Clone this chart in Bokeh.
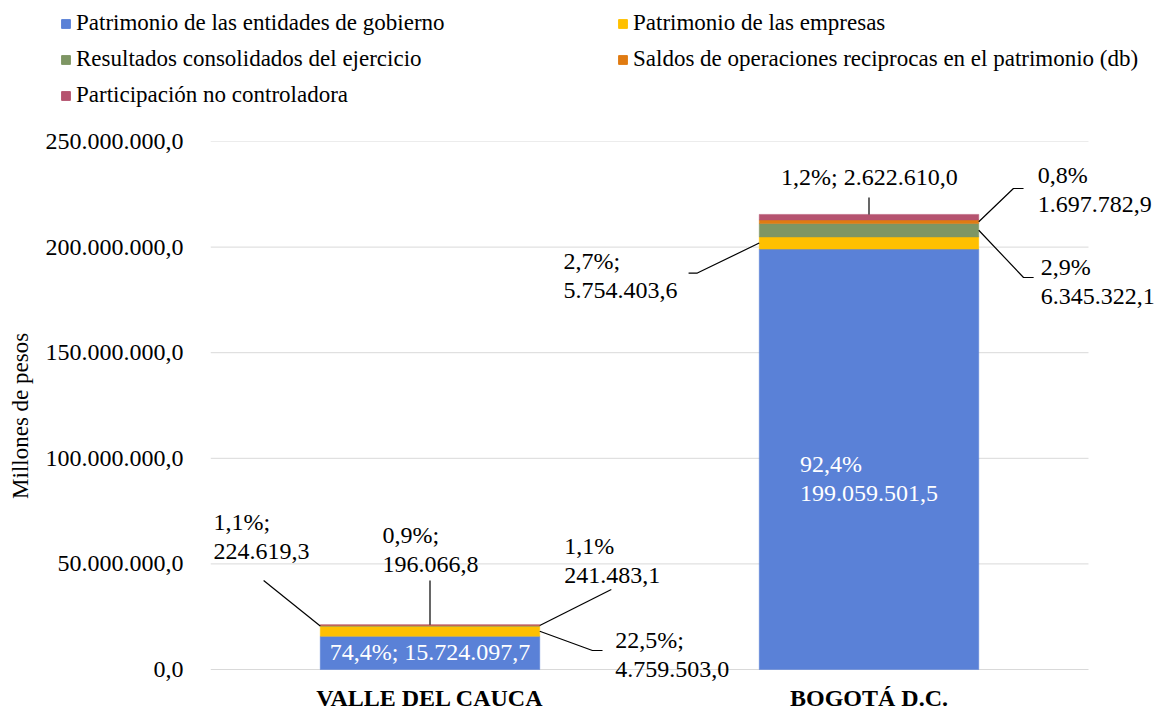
from bokeh.plotting import figure
from bokeh.layouts import column
from bokeh.models import (ColumnDataSource, Range1d, FixedTicker, Legend, LegendItem, LabelSet)
from bokeh.core.properties import value, field
from bokeh.embed import file_html
from bokeh.resources import INLINE

# ---------------- data ----------------
categories = ["VALLE DEL CAUCA", "BOGOTÁ D.C."]
series_names = [
    "Patrimonio de las entidades de gobierno",
    "Patrimonio de las empresas",
    "Resultados consolidados del ejercicio",
    "Saldos de operaciones reciprocas en el patrimonio (db)",
    "Participación no controladora",
]
entidades = [15724097.7, 199059501.5]
empresas = [4759503.0, 5754403.6]
resultados = [224619.3, 6345322.1]
saldos = [241483.1, 1697782.9]
participacion = [196066.8, 2622610.0]
y_ticks = [0, 50e6, 100e6, 150e6, 200e6, 250e6]

# ---------------- styles ----------------
colors = ["#5A81D7", "#FFC000", "#7E9664", "#E07B12", "#B5536F"]
FONT = "Liberation Serif"
keys = ["ent", "emp", "res", "sal", "par"]
vals = [entidades, empresas, resultados, saldos, participacion]


def es(v, dec=1):
    s = f"{v:,.{dec}f}"
    return s.replace(",", "X").replace(".", ",").replace("X", ".")


x_pos = [0.5, 1.5]
bar_w = 0.5
totals = [sum(v[i] for v in vals) for i in range(2)]
bottoms = []
for s in range(5):
    bottoms.append([sum(vals[k][c] for k in range(s)) for c in range(2)])

src = ColumnDataSource(dict(x=x_pos, **{k: v for k, v in zip(keys, vals)}))

# ---------------- legend strip (separate figure on top) ----------------
LEG_H = 112
lf = figure(width=1157, height=LEG_H, min_border=0, x_range=Range1d(0, 1), y_range=Range1d(0, 1),
            x_axis_type=None, y_axis_type=None, output_backend="svg",
            toolbar_location=None, tools="")
lf.frame_align = False
lf.outline_line_color = None
lf.xgrid.visible = False
lf.ygrid.visible = False
# hidden copies of the bars, used only to draw the legend swatches
lrs = lf.vbar_stack(keys, x="x", width=bar_w, source=src, color=colors, visible=False)


def make_legend(idx, loc):
    return Legend(items=[LegendItem(label=series_names[i], renderers=[lrs[i]]) for i in idx],
                  location=loc, orientation="vertical",
                  glyph_width=11, glyph_height=11, label_height=22, spacing=10,
                  label_standoff=5, padding=0, margin=0,
                  border_line_color=None, background_fill_alpha=0,
                  inactive_fill_alpha=0,
                  label_text_font=FONT, label_text_font_size="23px",
                  label_text_color="black")


lf.add_layout(make_legend([0, 2, 4], (60, 4)))
lf.add_layout(make_legend([1, 3], (617, 40)))

# ---------------- main chart ----------------
X_END = 2 + 69 / 439
Y_START = -15 * 250e6 / 528

p = figure(width=1157, height=709 - LEG_H, frame_width=947, frame_height=543,
           min_border_left=210, min_border_top=141 - LEG_H,
           min_border_bottom=709 - LEG_H - (141 - LEG_H) - 543, min_border_right=0,
           x_range=Range1d(0, X_END), y_range=Range1d(Y_START, 250e6),
           output_backend="svg", toolbar_location=None, tools="")
p.frame_align = False
p.outline_line_color = None
p.background_fill_color = "white"

# gridlines (limited to the plot area of the two categories)
p.segment(x0=[0] * len(y_ticks), x1=[2] * len(y_ticks), y0=y_ticks, y1=y_ticks,
          line_color="#D9D9D9", line_width=1)

rs = p.vbar_stack(keys, x="x", width=bar_w, source=src, color=colors, line_width=0.5)

# axes
p.yaxis.ticker = FixedTicker(ticks=y_ticks)
p.yaxis.major_label_overrides = {t: es(t) for t in y_ticks}
p.yaxis.axis_line_color = None
p.yaxis.major_tick_line_color = None
p.yaxis.minor_tick_line_color = None
p.yaxis.major_tick_out = 0
p.yaxis.major_tick_in = 0
p.yaxis.minor_tick_out = 0
p.yaxis.major_label_text_font = FONT
p.yaxis.major_label_text_font_size = "24px"
p.yaxis.major_label_text_color = "black"
p.yaxis.major_label_standoff = 27
p.yaxis.axis_label = "Millones  de pesos"
p.yaxis.axis_label_text_font = FONT
p.yaxis.axis_label_text_font_size = "23px"
p.yaxis.axis_label_text_font_style = "normal"
p.yaxis.axis_label_text_color = "black"
p.yaxis.axis_label_standoff = 10

p.xaxis.ticker = FixedTicker(ticks=x_pos)
p.xaxis.major_label_overrides = {x: c for x, c in zip(x_pos, categories)}
p.xaxis.axis_line_color = None
p.xaxis.major_tick_line_color = None
p.xaxis.minor_tick_line_color = None
p.xaxis.major_tick_out = 0
p.xaxis.major_tick_in = 0
p.xaxis.minor_tick_out = 0
p.xaxis.major_label_text_font = FONT
p.xaxis.major_label_text_font_size = "24px"
p.xaxis.major_label_text_font_style = "bold"
p.xaxis.major_label_text_color = "black"
p.xaxis.major_label_standoff = 0

p.xgrid.grid_line_color = None
p.ygrid.grid_line_color = None

# ---------------- data labels ----------------
# layout of each label: (series, category, separator, label x, label y, colour, leader path)
label_layout = [
    (0, 0, "; ", 0.50, 8.05e6, "white", None),
    (1, 0, ";\n", 1.052, 7.10e6, "black", [("right", "mid"), (0.870, 9.0e6), (0.893, 9.0e6)]),
    (2, 0, ";\n", 0.116, 62.97e6, "black", [("left", "mid"), (0.121, 42.1e6)]),
    (3, 0, "\n", 0.915, 51.6e6, "black", [("right", "mid"), (0.913, 37.9e6)]),
    (4, 0, ";\n", 0.501, 56.8e6, "black", [("center", "top"), (0.50, 42.1e6)]),
    (0, 1, "\n", 1.50, 90.4e6, "white", None),
    (1, 1, ";\n", 0.934, 186.6e6, "black", [("left", "mid"), (1.109, 187.7e6), (1.089, 187.7e6)]),
    (2, 1, "\n", 2.021, 183.7e6, "black", [("right", "mid"), (1.852, 185.6e6), (1.875, 185.6e6)]),
    (3, 1, "\n", 2.014, 227.3e6, "black", [("right", "mid"), (1.829, 227.75e6), (1.852, 227.75e6)]),
    (4, 1, "; ", 1.501, 233.4e6, "black", [("center", "top"), (1.50, 223.5e6)]),
]

lx, ly, lt, lc = [], [], [], []
xs, ys = [], []
for s, c, sep, x, y, col, path in label_layout:
    v = vals[s][c]
    pct = es(100 * v / totals[c])
    lx.append(x)
    ly.append(y)
    lt.append(f"{pct}%{sep}{es(v)}")
    lc.append(col)
    if path:
        side, where = path[0]
        ax = x_pos[c] + {"left": -bar_w / 2, "right": bar_w / 2, "center": 0}[side]
        ay = bottoms[s][c] + (v / 2 if where == "mid" else v)
        xs.append([ax] + [pt[0] for pt in path[1:]])
        ys.append([ay] + [pt[1] for pt in path[1:]])

p.multi_line(xs=xs, ys=ys, line_color="black", line_width=1.2)

lsrc = ColumnDataSource(dict(x=lx, y=ly, text=lt, color=lc))
labels = LabelSet(x="x", y="y", text="text", source=lsrc, text_align="center",
                  text_baseline="middle", text_color=field("color"),
                  text_font=value(FONT), text_font_size="24px", text_line_height=1.12)
p.add_layout(labels)

layout = column(lf, p, spacing=0)
open("out.html", "w").write(file_html(layout, INLINE))
